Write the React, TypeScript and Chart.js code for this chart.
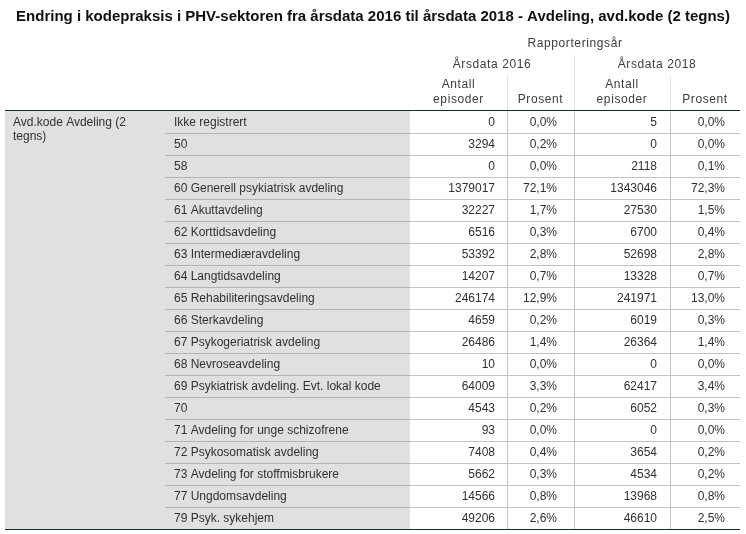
import React, { useEffect, useRef } from "react";
import { Chart, registerables } from "chart.js";

Chart.register(...registerables);

const title = "Endring i kodepraksis i PHV-sektoren fra årsdata 2016 til årsdata 2018 - Avdeling, avd.kode (2 tegns)";
const spanner = "Rapporteringsår";
const years = ["Årsdata 2016", "Årsdata 2018"];
const measureHeaders = [["Antall", "episoder"], ["Prosent"], ["Antall", "episoder"], ["Prosent"]];
const groupLabel = ["Avd.kode Avdeling (2", "tegns)"];

const rowLabels = [
  "Ikke registrert",
  "50",
  "58",
  "60 Generell psykiatrisk avdeling",
  "61 Akuttavdeling",
  "62 Korttidsavdeling",
  "63 Intermediæravdeling",
  "64 Langtidsavdeling",
  "65 Rehabiliteringsavdeling",
  "66 Sterkavdeling",
  "67 Psykogeriatrisk avdeling",
  "68 Nevroseavdeling",
  "69 Psykiatrisk avdeling. Evt. lokal kode",
  "70",
  "71 Avdeling for unge schizofrene",
  "72 Psykosomatisk avdeling",
  "73 Avdeling for stoffmisbrukere",
  "77 Ungdomsavdeling",
  "79 Psyk. sykehjem",
];

const counts2016 = [0, 3294, 0, 1379017, 32227, 6516, 53392, 14207, 246174, 4659, 26486, 10, 64009, 4543, 93, 7408, 5662, 14566, 49206];
const pct2016 = [0.0, 0.2, 0.0, 72.1, 1.7, 0.3, 2.8, 0.7, 12.9, 0.2, 1.4, 0.0, 3.3, 0.2, 0.0, 0.4, 0.3, 0.8, 2.6];
const counts2018 = [5, 0, 2118, 1343046, 27530, 6700, 52698, 13328, 241971, 6019, 26364, 0, 62417, 6052, 0, 3654, 4534, 13968, 46610];
const pct2018 = [0.0, 0.0, 0.1, 72.3, 1.5, 0.4, 2.8, 0.7, 13.0, 0.3, 1.4, 0.0, 3.4, 0.3, 0.0, 0.2, 0.2, 0.8, 2.5];

// layout (pixel columns on a 0..746 linear x scale)
const W = 746;
const H = 534;
const tableLeft = 5;
const labelLeft = 165;
const greyRight = 410;
const colBounds = [410, 507, 574, 670, 740];
const colTextRight = [495, 557, 657, 725];
const headerTop = 111;

const fmtPct = (v: number) => v.toFixed(1).replace(".", ",") + "%";
const fmtCount = (v: number) => String(v);

const columns = [
  { values: counts2016, fmt: fmtCount },
  { values: pct2016, fmt: fmtPct },
  { values: counts2018, fmt: fmtCount },
  { values: pct2018, fmt: fmtPct },
];

const FONT = '"Liberation Sans", Arial, sans-serif';

const tablePlugin = {
  id: "tablePlugin",
  beforeDatasetsDraw(chart: any) {
    const ctx = chart.ctx;
    const xs = chart.scales.x;
    const ys = chart.scales.y;
    const px = (v: number) => xs.getPixelForValue(v);
    const top = chart.chartArea.top;
    const bottom = chart.chartArea.bottom;
    ctx.save();
    ctx.fillStyle = "#ffffff";
    ctx.fillRect(0, 0, chart.width, chart.height);
    // grey label area
    ctx.fillStyle = "#e0e0e0";
    ctx.fillRect(px(tableLeft), top, px(greyRight) - px(tableLeft), bottom - top);

    // row separators
    ctx.lineWidth = 1;
    for (let i = 0; i < rowLabels.length - 1; i++) {
      const yy = Math.round((ys.getPixelForValue(i) + ys.getPixelForValue(i + 1)) / 2) + 0.5;
      ctx.strokeStyle = "#b4b4b4";
      ctx.beginPath();
      ctx.moveTo(px(labelLeft), yy);
      ctx.lineTo(px(greyRight), yy);
      ctx.stroke();
      ctx.strokeStyle = "#c4c4c4";
      ctx.beginPath();
      ctx.moveTo(px(greyRight), yy);
      ctx.lineTo(px(colBounds[4]), yy);
      ctx.stroke();
    }
    // vertical lines in body
    ctx.strokeStyle = "#c4c4c4";
    for (let k = 1; k < 4; k++) {
      const xx = Math.round(px(colBounds[k])) + 0.5;
      ctx.beginPath();
      ctx.moveTo(xx, top);
      ctx.lineTo(xx, bottom);
      ctx.stroke();
    }
    // vertical lines in header
    ctx.strokeStyle = "#e4e4e4";
    const mid = Math.round(px(colBounds[2])) + 0.5;
    ctx.beginPath();
    ctx.moveTo(mid, 55);
    ctx.lineTo(mid, top);
    ctx.stroke();
    for (const k of [1, 3]) {
      const xx = Math.round(px(colBounds[k])) + 0.5;
      ctx.beginPath();
      ctx.moveTo(xx, 76);
      ctx.lineTo(xx, top);
      ctx.stroke();
    }
    // thick top/bottom rules
    ctx.strokeStyle = "#1b2a2a";
    ctx.lineWidth = 1.2;
    ctx.beginPath();
    ctx.moveTo(px(tableLeft), top - 0.5);
    ctx.lineTo(px(colBounds[4]), top - 0.5);
    ctx.moveTo(px(tableLeft), bottom + 0.5);
    ctx.lineTo(px(colBounds[4]), bottom + 0.5);
    ctx.stroke();
    ctx.restore();
  },
  afterDatasetsDraw(chart: any) {
    const ctx = chart.ctx;
    const xs = chart.scales.x;
    const ys = chart.scales.y;
    const px = (v: number) => xs.getPixelForValue(v);
    ctx.save();
    ctx.textBaseline = "middle";

    // title
    ctx.fillStyle = "#101010";
    ctx.font = 'bold 15px "Liberation Sans", Arial, sans-serif';
    ctx.textAlign = "center";
    ctx.fillText(title, W / 2, 17);

    // headers
    ctx.font = "12px " + FONT;
    ctx.fillStyle = "#3c3c3c";
    ctx.letterSpacing = "0.6px";
    ctx.fillText(spanner, px((colBounds[0] + colBounds[4]) / 2), 44);
    ctx.fillText(years[0], px((colBounds[0] + colBounds[2]) / 2), 65);
    ctx.fillText(years[1], px((colBounds[2] + colBounds[4]) / 2), 65);
    measureHeaders.forEach((lines, k) => {
      const cx = px((colBounds[k] + colBounds[k + 1]) / 2);
      if (lines.length === 2) {
        ctx.fillText(lines[0], cx, 85);
        ctx.fillText(lines[1], cx, 100);
      } else {
        ctx.fillText(lines[0], cx, 100);
      }
    });
    ctx.letterSpacing = "0px";

    // group label
    ctx.fillStyle = "#303030";
    ctx.textAlign = "left";
    const y0 = ys.getPixelForValue(0);
    ctx.fillText(groupLabel[0], px(13), y0 + 1);
    ctx.fillText(groupLabel[1], px(13), y0 + 15);

    // row labels
    rowLabels.forEach((lab, i) => {
      ctx.fillText(lab, px(labelLeft + 9), ys.getPixelForValue(i) + 1);
    });

    // cells from dataset element positions
    ctx.textAlign = "right";
    chart.data.datasets.forEach((ds: any, j: number) => {
      const meta = chart.getDatasetMeta(j);
      meta.data.forEach((el: any, i: number) => {
        ctx.fillText(columns[j].fmt(columns[j].values[i]), el.x, el.y + 1);
      });
    });
    ctx.restore();
  },
};

export default function App() {
  const ref = useRef<HTMLCanvasElement | null>(null);
  useEffect(() => {
    if (!ref.current) return;
    const chart = new Chart(ref.current, {
      type: "scatter",
      data: {
        datasets: columns.map((c, j) => ({
          label: "col" + j,
          data: c.values.map((_, i) => ({ x: colTextRight[j], y: rowLabels[i] })),
          pointRadius: 0,
          pointHoverRadius: 0,
          showLine: false,
        })),
      },
      options: {
        animation: false,
        responsive: false,
        events: [],
        layout: { padding: { top: headerTop, bottom: H - 529, left: 0, right: 0 } },
        plugins: { legend: { display: false }, tooltip: { enabled: false }, title: { display: false } },
        scales: {
          x: { type: "linear", min: 0, max: W, display: false },
          y: { type: "category", labels: rowLabels, offset: true, display: false },
        },
      },
      plugins: [tablePlugin],
    } as any);
    return () => chart.destroy();
  }, []);
  return (
    <div style={{ position: "absolute", left: 0, top: 0, width: W, height: H, background: "#fff" }}>
      <canvas ref={ref} width={W} height={H} style={{ display: "block" }} />
    </div>
  );
}
